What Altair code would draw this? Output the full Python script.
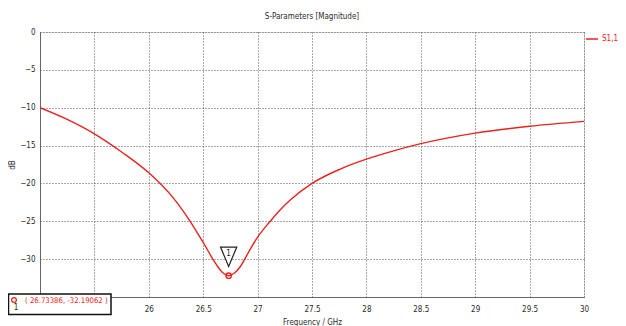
import altair as alt
import pandas as pd

# ---- data ----
freq_ghz = [25.0, 25.25, 25.5, 25.75, 26.0, 26.23, 26.38, 26.5, 26.62, 26.68,
            26.73386, 26.79, 26.84, 26.92, 27.0, 27.11, 27.2, 27.3, 27.5, 27.76,
            28.0, 28.25, 28.5, 29.0, 29.5, 30.0]
s11_db = [-10.0, -11.55, -13.45, -15.85, -18.6, -22.0, -25.0, -27.8, -30.7, -31.8,
          -32.19062, -31.8, -31.0, -29.0, -27.1, -25.1, -23.6, -22.2, -20.0, -18.1,
          -16.8, -15.7, -14.75, -13.35, -12.45, -11.8]
series_name = "S1,1"
x_ticks = [25, 25.5, 26, 26.5, 27, 27.5, 28, 28.5, 29, 29.5, 30]
y_ticks = [0, -5, -10, -15, -20, -25, -30, -35]
marker_freq = 26.73386
marker_db = -32.19062
marker_label = "1"

FONT = "DejaVu Sans Condensed"
RED = "#e8231e"
TXT = "#2a2a2a"

curve = pd.DataFrame({"freq": freq_ghz, "db": s11_db, "series": series_name})
marker = pd.DataFrame({
    "freq": [marker_freq], "db": [marker_db], "label": [marker_label],
    "readout": [f"( {marker_freq}, {marker_db} )"],
})

xscale = alt.Scale(domain=[25, 30], nice=False, zero=False)
yscale = alt.Scale(domain=[-35, 0], nice=False, zero=False)

# labels hidden under the marker read-out box in the reference
xaxis = alt.Axis(values=x_ticks, title="Frequency / GHz", grid=True, format="~g",
                 labelExpr="datum.value < 26 ? '' : datum.label",
                 gridDash=[1, 2], gridColor="#555", gridWidth=1,
                 ticks=False, domainColor="#666", domainWidth=1,
                 labelFont=FONT, labelFontSize=8, labelColor=TXT,
                 labelPadding=8, labelFlush=False, labelOverlap=False,
                 titleFont=FONT, titleFontSize=8, titleFontWeight="normal",
                 titleColor=TXT, titlePadding=5, zindex=0)
yaxis = alt.Axis(values=y_ticks, title="dB", grid=True, format="~g",
                 labelExpr="datum.value < -32 ? '' : datum.label",
                 gridDash=[1, 2], gridColor="#555", gridWidth=1,
                 ticks=False, domainColor="#666", domainWidth=1,
                 labelFont=FONT, labelFontSize=8, labelColor=TXT,
                 labelPadding=5, labelFlush=False, labelOverlap=False,
                 titleFont=FONT, titleFontSize=8, titleFontWeight="normal",
                 titleColor=TXT, titlePadding=3, zindex=0)

X = alt.X("freq:Q", scale=xscale, axis=xaxis)
Y = alt.Y("db:Q", scale=yscale, axis=yaxis)

line = alt.Chart(curve).mark_line(strokeWidth=1.4, interpolate="monotone", clip=True).encode(
    x=X, y=Y,
    color=alt.Color("series:N", scale=alt.Scale(domain=[series_name], range=[RED]),
                    legend=alt.Legend(title=None, orient="none", legendX=545, legendY=0,
                                      symbolType="stroke", symbolSize=144,
                                      symbolStrokeWidth=1.5, labelColor=RED,
                                      labelFont=FONT, labelFontSize=8,
                                      labelOffset=3, padding=0)),
)

tri = alt.Chart(marker).mark_point(
    shape="M-0.84,-1L0.84,-1L0,1Z", size=376, filled=True, fill="white",
    stroke="#222", strokeWidth=1.2, opacity=1, yOffset=-19,
).encode(x=X, y=Y)

tri_txt = alt.Chart(marker).mark_text(
    font=FONT, fontSize=8, color="#222", yOffset=-22, baseline="middle",
).encode(x=X, y=Y, text="label:N")

dot = alt.Chart(marker).mark_point(
    shape="circle", size=30, filled=False, stroke=RED, strokeWidth=1.3, opacity=1,
).encode(x=X, y=Y)

box = alt.Chart(marker).mark_rect(fill="white", stroke="#111", strokeWidth=1.5).encode(
    x=alt.value(-31.5), x2=alt.value(71), y=alt.value(262), y2=alt.value(282.5))

box_dot = alt.Chart(marker).mark_point(
    shape="circle", size=22, filled=False, stroke=RED, strokeWidth=1.3, opacity=1,
).encode(x=alt.value(-26), y=alt.value(268))

box_num = alt.Chart(marker).mark_text(font=FONT, fontSize=8, color="#222", baseline="middle").encode(
    x=alt.value(-24), y=alt.value(276), text="label:N")

box_txt = alt.Chart(marker).mark_text(font=FONT, fontSize=7.7, color=RED, align="left",
                                      baseline="middle").encode(
    x=alt.value(-15), y=alt.value(269), text="readout:N")

chart = alt.layer(line, dot, tri, tri_txt, box, box_dot, box_num, box_txt).properties(
    width=544, height=265,
    title=alt.TitleParams("S-Parameters [Magnitude]", font=FONT, fontSize=8,
                          fontWeight="normal", color=TXT, anchor="middle",
                          baseline="bottom", offset=0, dy=1),
    autosize=alt.AutoSizeParams(type="none"),
    padding={"left": 32, "top": 24, "right": 34, "bottom": 29},
).configure_view(stroke="#888", strokeWidth=1).configure(background="white")

chart.save("out.html", embed_options={"renderer": "svg", "actions": False})
